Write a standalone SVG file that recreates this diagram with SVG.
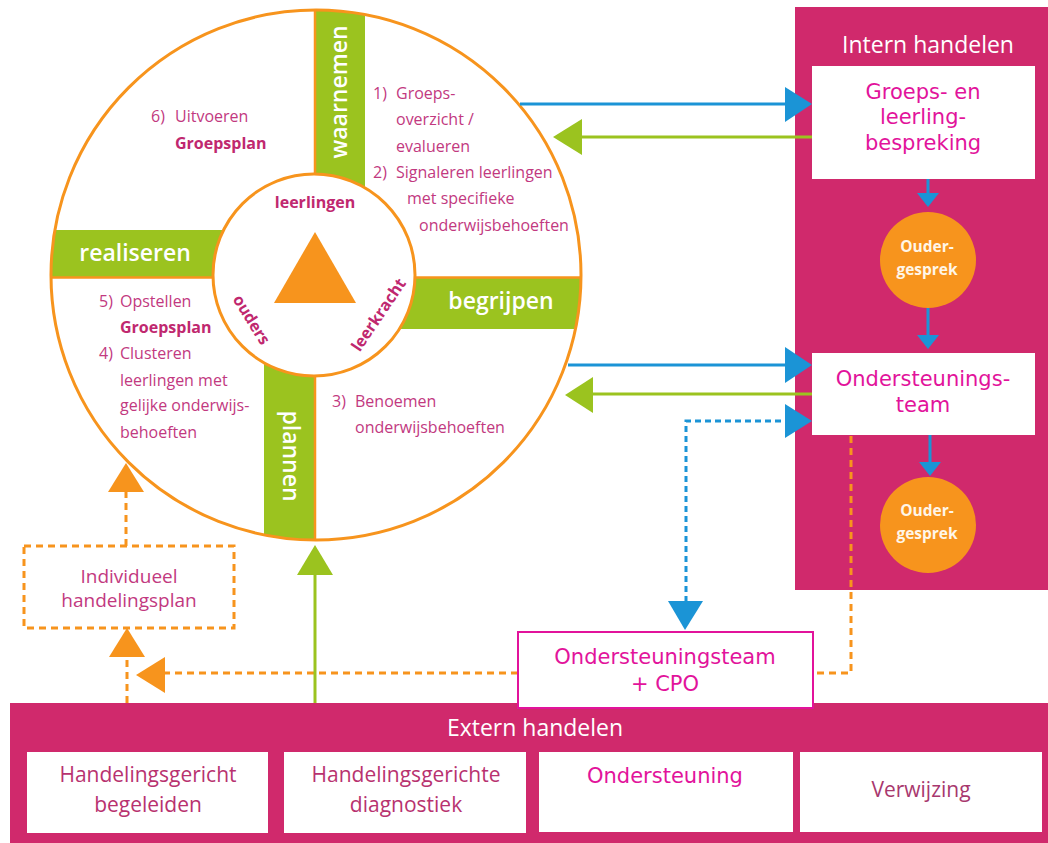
<svg xmlns="http://www.w3.org/2000/svg" width="1048" height="843" viewBox="0 0 1048 843">
<style>
.ct{font-family:"Open Sans","Liberation Sans",sans-serif;font-size:16px;fill:#c2397f}
.ctb{font-family:"Open Sans","Liberation Sans",sans-serif;font-size:16px;font-weight:700;fill:#c0286f}
.band{fill:#9bc31f}
.bl{font-family:"Open Sans","Liberation Sans",sans-serif;font-size:23px;font-weight:600;fill:#ffffff}
.ax{stroke:#f7941d;stroke-width:2.5;fill:none}
.panel{fill:#d0296c}
.ph{font-family:"Open Sans","Liberation Sans",sans-serif;font-size:23px;fill:#ffffff}
.wb{fill:#ffffff}
.pt{font-family:"DejaVu Sans","Verdana",sans-serif;font-size:21px;fill:#e2139b}
.ou{fill:#f7941d}
.ot{font-family:"Open Sans","Liberation Sans",sans-serif;font-size:15.5px;font-weight:700;fill:#fff6e8}
.et{font-family:"Open Sans","Liberation Sans",sans-serif;font-size:21px;fill:#b8326f}
.bln{stroke:#1b94d6;stroke-width:3;fill:none}
.blh{fill:#1b94d6}
.bld{stroke:#1b94d6;stroke-width:3;fill:none;stroke-dasharray:6 4}
.gln{stroke:#9bc31f;stroke-width:3;fill:none}
.glh{fill:#9bc31f}
.old{stroke:#f7941d;stroke-width:3;fill:none;stroke-dasharray:7 5}
.olh{fill:#f7941d}
</style>
<defs>
<clipPath id="outerClip"><circle cx="316" cy="275" r="265"/></clipPath>
</defs>
<rect width="1048" height="843" fill="#ffffff"/>

<g id="cycle">
<circle cx="316" cy="275" r="265" fill="#ffffff"/>
<g clip-path="url(#outerClip)">
<rect class="band" x="314" y="0" width="51" height="200"/>
<rect class="band" x="40" y="230" width="200" height="47"/>
<rect class="band" x="390" y="277" width="210" height="52"/>
<rect class="band" x="264" y="350" width="51" height="210"/>
<line class="ax" x1="315" y1="0" x2="315" y2="560"/>
<line class="ax" x1="40" y1="277.5" x2="600" y2="277.5"/>
</g>
<circle cx="316" cy="275" r="265" fill="none" stroke="#f7941d" stroke-width="3"/>
<text class="bl" transform="translate(347,92) rotate(-90)" text-anchor="middle">waarnemen</text>
<text class="bl" x="135" y="261" text-anchor="middle">realiseren</text>
<text class="bl" x="501" y="309" text-anchor="middle">begrijpen</text>
<text class="bl" transform="translate(283,456) rotate(90)" text-anchor="middle">plannen</text>
</g>

<g id="center">
<circle cx="314" cy="275" r="101" fill="#ffffff" stroke="#f7941d" stroke-width="3"/>
<polygon class="ou" points="315,232 356,303 274,303"/>
<text class="ctb" x="315" y="208" text-anchor="middle">leerlingen</text>
<text class="ctb" transform="translate(251,320) rotate(58)" text-anchor="middle" dy="5">ouders</text>
<text class="ctb" transform="translate(379,315) rotate(-56)" text-anchor="middle" dy="5">leerkracht</text>
</g>

<g id="quadrant-top-left">
<text class="ct" x="151" y="122">6)</text>
<text class="ct" x="175" y="122">Uitvoeren</text>
<text class="ctb" x="175" y="149">Groepsplan</text>
</g>

<g id="quadrant-top-right">
<text class="ct" x="373" y="99">1)</text>
<text class="ct" x="396" y="99">Groeps-</text>
<text class="ct" x="396" y="125">overzicht /</text>
<text class="ct" x="396" y="152">evalueren</text>
<text class="ct" x="373" y="178">2)</text>
<text class="ct" x="396" y="178">Signaleren leerlingen</text>
<text class="ct" x="407" y="204">met specifieke</text>
<text class="ct" x="419" y="231">onderwijsbehoeften</text>
</g>

<g id="quadrant-bottom-left">
<text class="ct" x="99" y="307">5)</text>
<text class="ct" x="120" y="307">Opstellen</text>
<text class="ctb" x="120" y="333">Groepsplan</text>
<text class="ct" x="99" y="359">4)</text>
<text class="ct" x="120" y="359">Clusteren</text>
<text class="ct" x="120" y="386">leerlingen met</text>
<text class="ct" x="120" y="411">gelijke onderwijs-</text>
<text class="ct" x="120" y="438">behoeften</text>
</g>

<g id="quadrant-bottom-right">
<text class="ct" x="332" y="407">3)</text>
<text class="ct" x="355" y="407">Benoemen</text>
<text class="ct" x="355" y="433">onderwijsbehoeften</text>
</g>

<g id="intern-panel">
<rect class="panel" x="795" y="7" width="253" height="583"/>
<text class="ph" x="928" y="53" text-anchor="middle">Intern handelen</text>
</g>

<g id="groeps-leerlingbespreking">
<rect class="wb" x="812" y="66" width="223" height="113"/>
<text class="pt" x="923" y="99" text-anchor="middle">Groeps- en</text>
<text class="pt" x="923" y="124" text-anchor="middle">leerling-</text>
<text class="pt" x="923" y="150" text-anchor="middle">bespreking</text>
</g>

<g id="oudergesprek-1">
<circle class="ou" cx="928" cy="260" r="48"/>
<text class="ot" x="927" y="252" text-anchor="middle">Ouder-</text>
<text class="ot" x="927" y="275" text-anchor="middle">gesprek</text>
</g>

<g id="ondersteuningsteam">
<rect class="wb" x="812" y="353" width="223" height="82"/>
<text class="pt" x="923" y="386" text-anchor="middle">Ondersteunings-</text>
<text class="pt" x="923" y="412" text-anchor="middle">team</text>
</g>

<g id="oudergesprek-2">
<circle class="ou" cx="928" cy="525" r="48"/>
<text class="ot" x="927" y="516" text-anchor="middle">Ouder-</text>
<text class="ot" x="927" y="539" text-anchor="middle">gesprek</text>
</g>

<g id="individueel-handelingsplan">
<rect x="24" y="546" width="210" height="82" fill="#ffffff" stroke="#f7941d" stroke-width="3" stroke-dasharray="7 5"/>
<text class="ct" style="font-size:19px" x="129" y="583" text-anchor="middle">Individueel</text>
<text class="ct" style="font-size:19px" x="129" y="607" text-anchor="middle">handelingsplan</text>
</g>

<g id="connectors">
<line class="bln" x1="520" y1="104" x2="787" y2="104"/>
<polygon class="blh" points="785,87 812,104 785,122"/>
<line class="gln" x1="812" y1="137" x2="580" y2="137"/>
<polygon class="glh" points="582,119 553,137 582,155"/>
<line class="bln" x1="568" y1="365" x2="787" y2="365"/>
<polygon class="blh" points="785,347 812,365 785,383"/>
<line class="gln" x1="812" y1="394" x2="590" y2="394"/>
<polygon class="glh" points="593,377 565,395 593,413"/>
<polyline class="bld" points="686,602 686,421 787,421"/>
<polygon class="blh" points="785,404 812,421 785,438"/>
<polygon class="blh" points="668,601 703,601 685,630"/>
<line class="bln" x1="928" y1="179" x2="928" y2="195"/>
<polygon class="blh" points="917,193 939,193 928,207"/>
<line class="bln" x1="928" y1="308" x2="928" y2="337"/>
<polygon class="blh" points="917,335 939,335 928,349"/>
<line class="bln" x1="930" y1="435" x2="930" y2="464"/>
<polygon class="blh" points="919,462 941,462 930,476"/>
<polyline class="old" points="851,436 851,673 813,673"/>
<line class="old" x1="518" y1="673" x2="163" y2="673"/>
<polygon class="olh" points="165,657 136,675 165,693"/>
<line class="old" x1="127" y1="703" x2="127" y2="655"/>
<polygon class="olh" points="109,657 145,657 127,628"/>
<line class="old" x1="126" y1="546" x2="126" y2="490"/>
<polygon class="olh" points="108,492 144,492 126,463"/>
<line class="gln" x1="315" y1="703" x2="315" y2="573"/>
<polygon class="glh" points="297,575 333,575 315,545"/>
</g>

<g id="extern-panel">
<rect class="panel" x="10" y="703" width="1038" height="140"/>
<text class="ph" x="535" y="736" text-anchor="middle">Extern handelen</text>
</g>

<g id="ondersteuningsteam-cpo">
<rect x="518" y="632" width="295" height="76" fill="#ffffff" stroke="#e2139b" stroke-width="2"/>
<text class="pt" x="665" y="664" text-anchor="middle">Ondersteuningsteam</text>
<text class="pt" x="665" y="691" text-anchor="middle">+ CPO</text>
</g>

<g id="handelingsgericht-begeleiden">
<rect class="wb" x="27" y="752" width="241" height="81"/>
<text class="et" x="148" y="782" text-anchor="middle">Handelingsgericht</text>
<text class="et" x="148" y="812" text-anchor="middle">begeleiden</text>
</g>

<g id="handelingsgerichte-diagnostiek">
<rect class="wb" x="284" y="752" width="242" height="81"/>
<text class="et" x="406" y="782" text-anchor="middle">Handelingsgerichte</text>
<text class="et" x="406" y="812" text-anchor="middle">diagnostiek</text>
</g>

<g id="ondersteuning">
<rect class="wb" x="539" y="752" width="254" height="80"/>
<text class="pt" x="665" y="783" text-anchor="middle">Ondersteuning</text>
</g>

<g id="verwijzing">
<rect class="wb" x="800" y="752" width="242" height="80"/>
<text class="et" style="fill:#a8386e" x="921" y="797" text-anchor="middle">Verwijzing</text>
</g>
</svg>
